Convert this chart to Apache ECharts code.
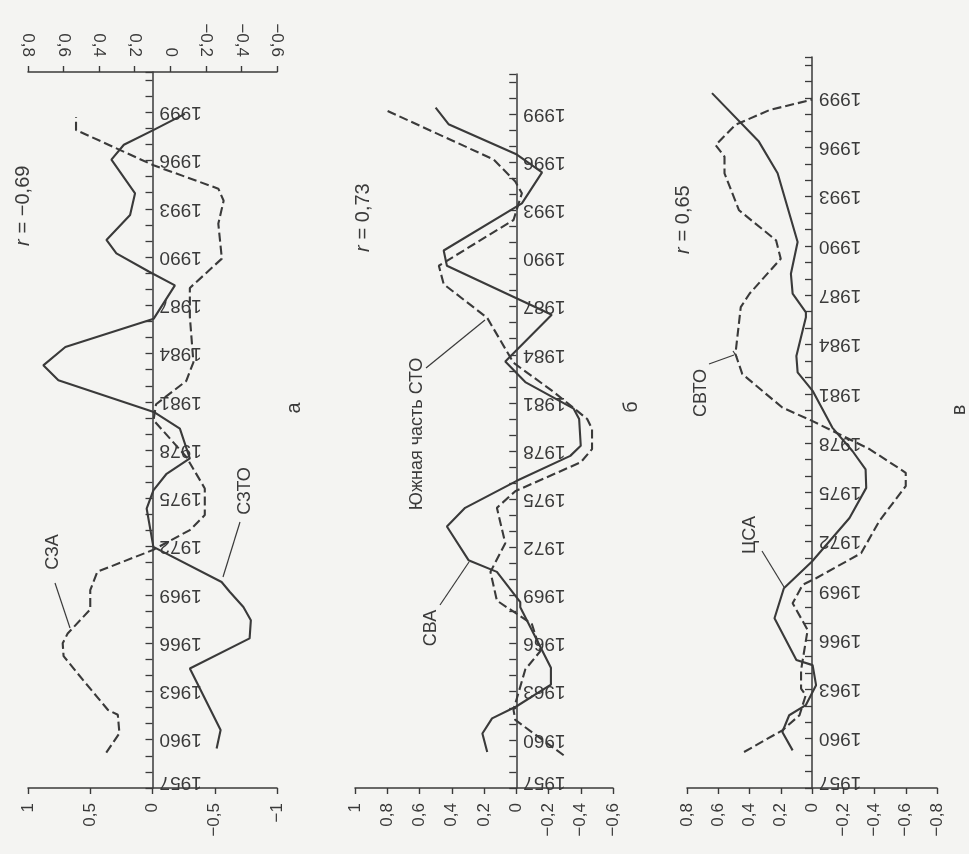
<!DOCTYPE html>
<html>
<head>
<meta charset="utf-8">
<script src="https://cdn.jsdelivr.net/npm/echarts@6/dist/echarts.min.js"></script>
<style>
html,body{margin:0;padding:0;background:#f4f4f2;}
#chart{width:969px;height:854px;}
</style>
</head>
<body>
<div id="chart"></div>
<script>
// ---- Data (years are the vertical axis, values the horizontal one) ----
// Panel а: СЗТО (solid, bottom axis), СЗА (dashed, top axis)
const c3toYears  = [1959.46,1960.6,1964.43,1966.3,1967.43,1968.25,1969.2,1969.8,1971.99,1974.37,1975.5,1976.5,1977.48,1979.34,1980.37,1982.34,1983.27,1984.41,1986.17,1988.24,1989.1,1990.23,1991.06,1992.61,1993.96,1996.05,1996.98,1997.9,1998.9];
const c3toValues = [-0.515,-0.547,-0.30,-0.78,-0.79,-0.73,-0.62,-0.555,-0.007,0.047,-0.007,-0.11,-0.30,-0.22,-0.01,0.756,0.877,0.70,-0.01,-0.18,0.03,0.29,0.37,0.18,0.14,0.33,0.23,-0.01,-0.26];
const c3aYears   = [1959.2,1960.4,1961.55,1961.85,1963.7,1965.2,1966.0,1966.6,1968.1,1969.3,1970.44,1971.79,1973.03,1973.96,1975.62,1977.58,1979.86,1980.85,1982.3,1983.46,1986.3,1988.08,1989.9,1992.07,1993.5,1994.25,1995.7,1997.9,1998.7];
const c3aValues  = [0.36,0.286,0.295,0.35,0.49,0.60,0.605,0.577,0.45,0.45,0.41,0.098,-0.11,-0.194,-0.194,-0.09,0.094,0.08,-0.09,-0.13,-0.11,-0.11,-0.29,-0.27,-0.30,-0.27,0.094,0.53,0.53];
// Panel б: СВА (solid), Южная часть СТО (dashed)
const cbaYears   = [1959.25,1960.4,1961.34,1962.08,1963.44,1964.49,1968.26,1968.58,1970.47,1971.2,1973.3,1974.46,1976.13,1977.7,1978.33,1980.0,1980.64,1982.3,1983.58,1986.5,1989.55,1990.5,1993.44,1995.37,1996.48,1998.37,1999.4];
const cbaValues  = [0.18,0.21,0.15,0,-0.215,-0.215,-0.025,-0.025,0.12,0.296,0.43,0.317,0,-0.335,-0.40,-0.39,-0.356,-0.056,0.068,-0.22,0.43,0.45,-0.035,-0.16,-0.004,0.42,0.50];
const stoYears   = [1959.04,1961.24,1961.87,1964.39,1965.54,1967.22,1968.68,1970.47,1972.25,1974.46,1975.5,1977.3,1978.12,1979.38,1980.0,1981.7,1983.5,1986.3,1988.4,1989.55,1992.4,1994.07,1994.8,1996.17,1999.3];
const stoValues  = [-0.294,0.006,0.017,-0.056,-0.15,-0.097,0.12,0.16,0.068,0.12,0.006,-0.40,-0.47,-0.47,-0.44,-0.23,0.017,0.18,0.45,0.48,0.017,-0.035,0.006,0.14,0.82];
// Panel в: ЦСА (solid), СВТО (dashed)
const csaYears   = [1959.29,1960.41,1961.43,1962.04,1963.26,1964.48,1964.79,1967.33,1969.16,1970.79,1973.44,1975.27,1976.4,1977.5,1978.94,1981.18,1982.3,1983.3,1985.66,1985.95,1987.09,1988.3,1990.24,1994.42,1996.35,1999.3];
const csaValues  = [0.124,0.19,0.146,0.04,-0.026,-0.004,0.10,0.24,0.18,0,-0.24,-0.347,-0.343,-0.26,-0.13,-0.004,0.092,0.10,0.039,0.039,0.124,0.135,0.092,0.22,0.34,0.64];
const cvtoYears  = [1959.19,1960.51,1961.43,1962.65,1963.05,1964.18,1966.62,1968.25,1969.37,1969.77,1971.3,1973.24,1975.38,1976.19,1977.62,1979.35,1980.16,1982.2,1983.42,1986.27,1987.09,1989.22,1990.34,1992.17,1994.42,1995.43,1996.14,1997.37,1998.28,1998.9];
const cvtoValues = [0.435,0.19,0.08,0.04,0.07,0.07,0.028,0.124,0.06,-0.026,-0.315,-0.43,-0.60,-0.60,-0.37,0,0.19,0.446,0.49,0.456,0.40,0.20,0.23,0.467,0.56,0.56,0.617,0.49,0.27,0];

const yearMin = 1957, yearMax = 2001.5;
const yearLabelStep = 3, yearLabelLast = 1999;
const rLabels = ['r = −0,69', 'r = 0,73', 'r = 0,65'];
const panelLetters = ['а', 'б', 'в'];

// ---- helpers ----
const pairs = (ys, vs) => ys.map((y, i) => [vs[i], y]);
const INK = '#3a3a3a';
const FONT = 'Liberation Sans, Arial, sans-serif';
const fmtVal = v => {
  const r = Math.round(v * 10) / 10;
  if (Math.abs(r) < 1e-9) return '0';
  return String(r).replace('.', ',').replace('-', '−');
};
const yearFmt = v => {
  if (Math.abs(v - Math.round(v)) > 1e-6) return '';
  const y = Math.round(v);
  if (y > yearLabelLast || (y - yearMin) % yearLabelStep !== 0) return '';
  return y === yearMin ? '{f|' + y + '}' : '{n|' + y + '}';
};

const grids = [
  {left: 28, top: 72, width: 249, height: 716},
  {left: 355, top: 74, width: 258, height: 714},
  {left: 687, top: 57, width: 250, height: 731}
];
// value-axis ranges per panel (bottom axis): [min, max]
const panelRanges = [[-1, 1], [-0.6, 1], [-0.8, 0.8]];

function valueAxis(gridIndex, min, max, interval, position) {
  return {
    type: 'value', gridIndex, min, max, interval, inverse: true, position,
    splitLine: {show: false},
    axisLine: {show: true, onZero: false, lineStyle: {color: INK, width: 1.5}},
    axisTick: {show: true, length: 6, lineStyle: {color: INK, width: 1.4}},
    axisLabel: {show: true, rotate: 90, margin: 15, fontSize: 17, fontFamily: FONT, color: INK, formatter: fmtVal}
  };
}
function yearAxis(gridIndex) {
  // place the year axis at value 0 of the panel's bottom axis (inverse: max on the left)
  const g = grids[gridIndex], r = panelRanges[gridIndex];
  const zeroOffset = g.width * (r[1] - 0) / (r[1] - r[0]);
  return {
    type: 'value', gridIndex, min: yearMin, max: yearMax, interval: 1, position: 'left',
    offset: -zeroOffset,
    splitLine: {show: false},
    axisLine: {show: true, onZero: false, lineStyle: {color: INK, width: 1.5}},
    axisTick: {show: true, inside: false, length: 7, lineStyle: {color: INK, width: 1.3}},
    axisLabel: {
      show: true, inside: true, rotate: 180, margin: 7, color: INK, fontSize: 19, fontFamily: FONT,
      formatter: yearFmt,
      rich: {
        n: {fontSize: 19, fontFamily: FONT, color: INK},
        f: {fontSize: 19, fontFamily: FONT, color: INK, padding: [12, 0, 0, 0]}
      }
    }
  };
}

const lineSolid = {color: INK, width: 2.1, type: 'solid'};
const lineDash = {color: INK, width: 2.1, type: [9, 4]};
function ser(xi, yi, data, ls) {
  return {type: 'line', xAxisIndex: xi, yAxisIndex: yi, data, showSymbol: false, symbol: 'none',
          smooth: false, clip: false, lineStyle: ls, silent: true};
}

function gText(x, y, text, size, rot) {
  return {type: 'text', x, y, rotation: rot, silent: true,
    style: {text, fill: INK, font: size + 'px ' + FONT, textAlign: 'center', textVerticalAlign: 'middle'}};
}
function rText(x, y, text) {
  // italic "r" followed by the rest of the label, rotated to read bottom-to-top
  const rest = text.slice(1);
  return {type: 'group', x, y, rotation: Math.PI / 2, silent: true, children: [
    {type: 'text', x: -40, y: 0, style: {text: 'r', fill: INK, font: 'italic 20px ' + FONT, textAlign: 'left', textVerticalAlign: 'middle'}},
    {type: 'text', x: -33, y: 0, style: {text: rest, fill: INK, font: '20px ' + FONT, textAlign: 'left', textVerticalAlign: 'middle'}}
  ]};
}
function gLine(x1, y1, x2, y2) {
  return {type: 'line', silent: true, shape: {x1, y1, x2, y2}, style: {stroke: INK, lineWidth: 1.2}};
}

const chart = echarts.init(document.getElementById('chart'), null, {renderer: 'canvas'});
chart.setOption({
  backgroundColor: '#f4f4f2',
  animation: false,
  grid: grids,
  xAxis: [
    valueAxis(0, panelRanges[0][0], panelRanges[0][1], 0.5, 'bottom'),
    valueAxis(0, -0.6, 0.8, 0.2, 'top'),
    valueAxis(1, panelRanges[1][0], panelRanges[1][1], 0.2, 'bottom'),
    valueAxis(2, panelRanges[2][0], panelRanges[2][1], 0.2, 'bottom')
  ],
  yAxis: [yearAxis(0), yearAxis(1), yearAxis(2)],
  series: [
    ser(0, 0, pairs(c3toYears, c3toValues), lineSolid),
    ser(1, 0, pairs(c3aYears, c3aValues), lineDash),
    ser(2, 1, pairs(cbaYears, cbaValues), lineSolid),
    ser(2, 1, pairs(stoYears, stoValues), lineDash),
    ser(3, 2, pairs(csaYears, csaValues), lineSolid),
    ser(3, 2, pairs(cvtoYears, cvtoValues), lineDash)
  ],
  graphic: [
    rText(23, 206, rLabels[0]),
    rText(363, 212, rLabels[1]),
    rText(683, 214, rLabels[2]),
    gText(294, 408, panelLetters[0], 20, Math.PI / 2),
    gText(631, 407, panelLetters[1], 20, Math.PI / 2),
    gText(959, 410, panelLetters[2], 20, Math.PI / 2),
    gText(53, 552, 'СЗА', 18, Math.PI / 2),
    gLine(55, 583, 70, 628),
    gText(245, 491, 'СЗТО', 18, Math.PI / 2),
    gLine(240, 522, 223, 577),
    gText(417, 434, 'Южная часть СТО', 18, Math.PI / 2),
    gLine(426, 368, 485, 320),
    gText(431, 628, 'СВА', 18, Math.PI / 2),
    gLine(440, 605, 469, 562),
    gText(701, 393, 'СВТО', 18, Math.PI / 2),
    gLine(709, 364, 734, 355),
    gLine(733, 351, 737, 357),
    gText(750, 535, 'ЦСА', 18, Math.PI / 2),
    gLine(762, 551, 784, 587)
  ]
});
</script>
</body>
</html>
